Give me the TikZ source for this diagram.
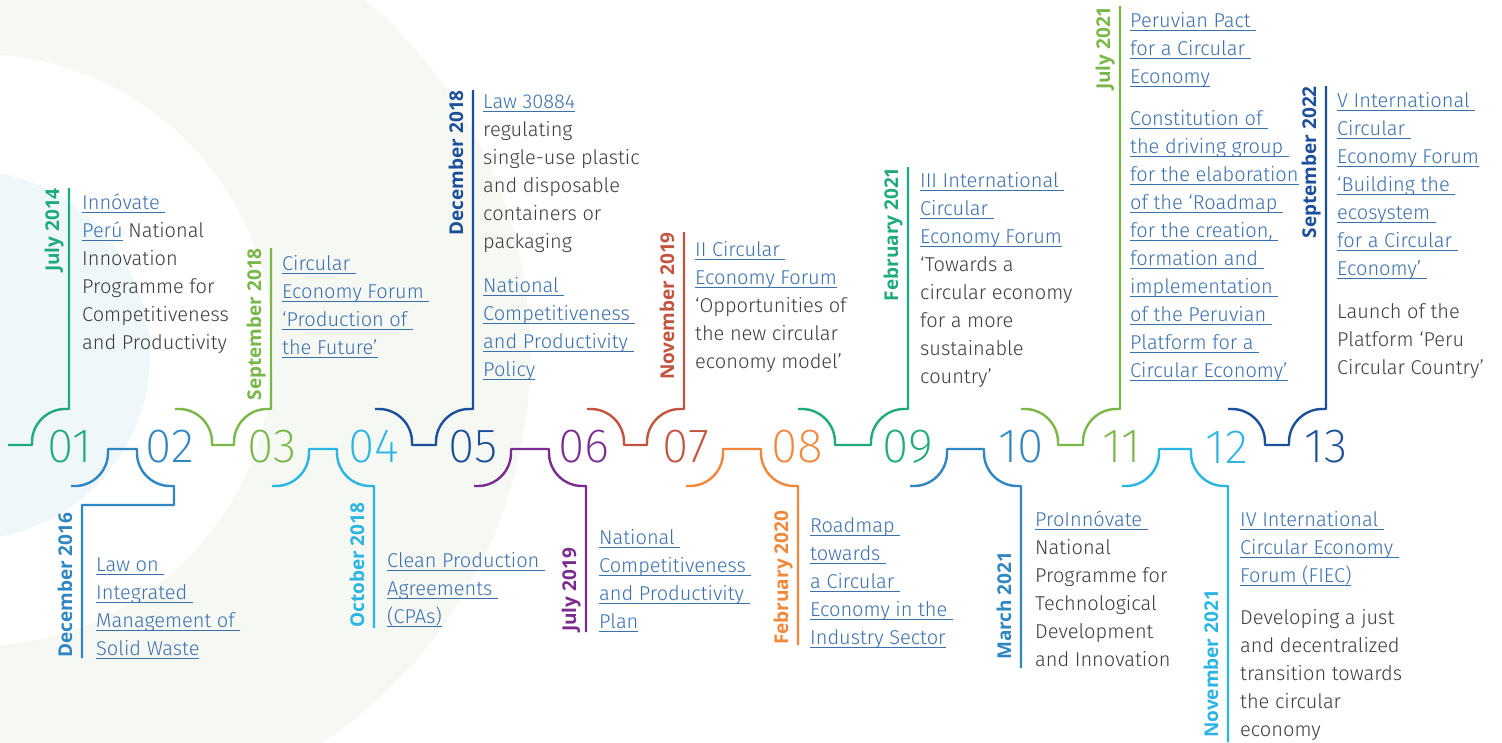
\documentclass[tikz,border=0pt]{standalone}
\usepackage{fontspec}
\setmainfont{Fira Sans Light}
\newfontfamily\numfont{Fira Sans ExtraLight}
\newfontfamily\datefont{Open Sans}
\usepackage{xcolor}
\definecolor{c01}{HTML}{1FAA7E}
\definecolor{c02}{HTML}{2F86C0}
\definecolor{c03}{HTML}{7AB648}
\definecolor{c04}{HTML}{2BB5E2}
\definecolor{c05}{HTML}{1B4F9B}
\definecolor{c06}{HTML}{7A2C8E}
\definecolor{c07}{HTML}{C2533F}
\definecolor{c08}{HTML}{F2873A}
\definecolor{lnk}{HTML}{3A6FB0}
\definecolor{body}{HTML}{3C3C3C}
\definecolor{paleg}{HTML}{F6F8F3}
\definecolor{paleb}{HTML}{EFF7FB}
% underlined link text
\newcommand{\lnk}[1]{{\color{lnk}\setbox0\hbox{#1}\rlap{\rule[-3.2pt]{\wd0}{1.2pt}}\box0}}

\tikzset{
  track/.style={line width=2.4pt, line join=round},
  num/.style={inner sep=0, font=\numfont\fontsize{48}{48}\selectfont},
  datelbl/.style={inner sep=0, rotate=90, font=\datefont\bfseries\fontsize{19}{19}\selectfont},
  txt/.style={anchor=north west, inner sep=0, align=left, text=body, font=\fontsize{20}{28}\selectfont},
}

\begin{document}
\begin{tikzpicture}[x=1pt,y=-1pt]
\useasboundingbox (0,0) rectangle (1502,742);
% background
\begin{scope}
\clip (0,0) rectangle (1502,742);
\fill[white] (0,0) rectangle (1502,742);
\fill[paleg] (65,355) circle[radius=465pt];
\fill[white] (-23,350) circle[radius=296pt];
\fill[paleb] (-35,355) circle[radius=185pt];
\end{scope}

% track pieces above the line
\draw[track,c01] (8,445) -- (32,445) -- (32,442) .. controls (32,424) and (47,409) .. (65,409) -- (69,409) -- (69,188);
\foreach \a/\s/\t/\c in {175/271/248/c03,375/473/90/c05,587/684/232/c07,798/908/167/c01,1021/1120/6/c03,1228/1326/86/c05}
  \draw[track,\c] (\a,409) -- (\a+4,409) .. controls (\a+22,409) and (\a+37,424) .. (\a+37,442) -- (\a+37,445)
    -- (\s-37,445) -- (\s-37,442) .. controls (\s-37,424) and (\s-22,409) .. (\s-4,409) -- (\s,409) -- (\s,\t);

% track pieces below the line
\draw[track,c02] (71,486) -- (75,486) .. controls (93,486) and (108,471) .. (108,453) -- (108,449) -- (137,449) -- (137,453)
  .. controls (137,471) and (152,486) .. (170,486) -- (174,486) -- (174,505) -- (82,505) -- (82,658);
\foreach \a/\s/\b/\c in {272/374/628/c04,474/586/632/c06,686/798/645/c08,910/1021/668/c02,1122/1228/742/c04}
  \draw[track,\c] (\a,486) -- (\a+4,486) .. controls (\a+22,486) and (\a+37,471) .. (\a+37,453) -- (\a+37,449)
    -- (\s-37,449) -- (\s-37,453) .. controls (\s-37,471) and (\s-22,486) .. (\s-4,486) -- (\s,486) -- (\s,\b);

% numbers
\foreach \x/\n/\c in {70/01/c01,170/02/c02,272/03/c03,374/04/c04,473/05/c05,584/06/c06,686/07/c07,
  797/08/c08,908/09/c01,1021/10/c02,1122/11/c03,1227/12/c04,1326/13/c05}
  \node[num,text=\c] (n\n) at (\x,447) {\n};

% dates
\node[datelbl,text=c01,anchor=base east] (d01) at (59,188) {July 2014};
\node[datelbl,text=c02,anchor=base west] (d02) at (72,658) {December 2016};
\node[datelbl,text=c03,anchor=base east] (d03) at (261,248) {September 2018};
\node[datelbl,text=c04,anchor=base west] (d04) at (364,628) {October 2018};
\node[datelbl,text=c05,anchor=base east] (d05) at (463,90) {December 2018};
\node[datelbl,text=c06,anchor=base west] (d06) at (576,632) {July 2019};
\node[datelbl,text=c07,anchor=base east] (d07) at (674,232) {November 2019};
\node[datelbl,text=c08,anchor=base west] (d08) at (788,645) {February 2020};
\node[datelbl,text=c01,anchor=base east] (d09) at (898,167) {February 2021};
\node[datelbl,text=c02,anchor=base west] (d10) at (1011,660) {March 2021};
\node[datelbl,text=c03,anchor=base east] (d11) at (1110,6) {July 2021};
\node[datelbl,text=c04,anchor=base west] (d12) at (1218,738) {November 2021};
\node[datelbl,text=c05,anchor=base east] (d13) at (1316,86) {September 2022};

% texts
\node[txt] (t01) at (82,190) {\strut\lnk{Innóvate~}\\ \lnk{Perú} National\\ Innovation\\ Programme for\\ Competitiveness\\ and Productivity};
\node[txt] (t02) at (96,552) {\strut\lnk{Law on~}\\ \lnk{Integrated~}\\ \lnk{Management of~}\\ \lnk{Solid Waste}};
\node[txt] (t03) at (282,251) {\strut\lnk{Circular~}\\ \lnk{Economy Forum~}\\ \lnk{‘Production of~}\\ \lnk{the Future’}};
\node[txt] (t04) at (387,548) {\strut\lnk{Clean Production~}\\ \lnk{Agreements~}\\ \lnk{(CPAs)}};
\node[txt] (t05) at (483,89) {\strut\lnk{Law 30884}\\ regulating\\ single-use plastic\\ and disposable\\ containers or\\ packaging\\[16pt]
  \lnk{National~}\\ \lnk{Competitiveness~}\\ \lnk{and Productivity~}\\ \lnk{Policy}};
\node[txt] (t06) at (599,525) {\strut\lnk{National~}\\ \lnk{Competitiveness~}\\ \lnk{and Productivity~}\\ \lnk{Plan}};
\node[txt] (t07) at (695,237) {\strut\lnk{II Circular~}\\ \lnk{Economy Forum}\\ ‘Opportunities of\\ the new circular\\ economy model’};
\node[txt] (t08) at (810,513) {\strut\lnk{Roadmap~}\\ \lnk{towards~}\\ \lnk{a Circular~}\\ \lnk{Economy in the~}\\ \lnk{Industry Sector}};
\node[txt] (t09) at (920,168) {\strut\lnk{III International~}\\ \lnk{Circular~}\\ \lnk{Economy Forum}\\ ‘Towards a\\ circular economy\\ for a more\\ sustainable\\ country’};
\node[txt] (t10) at (1035,507) {\strut\lnk{ProInnóvate~}\\ National\\ Programme for\\ Technological\\ Development\\ and Innovation};
\node[txt] (t11) at (1130,8) {\strut\lnk{Peruvian Pact~}\\ \lnk{for a Circular~}\\ \lnk{Economy}\\[14pt]
  \lnk{Constitution of~}\\ \lnk{the driving group~}\\ \lnk{for the elaboration}\\ \lnk{of the ‘Roadmap~}\\ \lnk{for the creation,~}\\
  \lnk{formation and~}\\ \lnk{implementation~}\\ \lnk{of the Peruvian~}\\ \lnk{Platform for a~}\\ \lnk{Circular Economy’}};
\node[txt] (t12) at (1240,507) {\strut\lnk{IV International~}\\ \lnk{Circular Economy~}\\ \lnk{Forum (FIEC)}\\[14pt]
  Developing a just\\ and decentralized\\ transition towards\\ the circular\\ economy};
\node[txt] (t13) at (1337,88) {\strut\lnk{V International~}\\ \lnk{Circular~}\\ \lnk{Economy Forum}\\ \lnk{‘Building the~}\\ \lnk{ecosystem~}\\ \lnk{for a Circular~}\\ \lnk{Economy’~}\\[15pt]
  Launch of the\\ Platform ‘Peru\\ Circular Country’};
\end{tikzpicture}
\end{document}
